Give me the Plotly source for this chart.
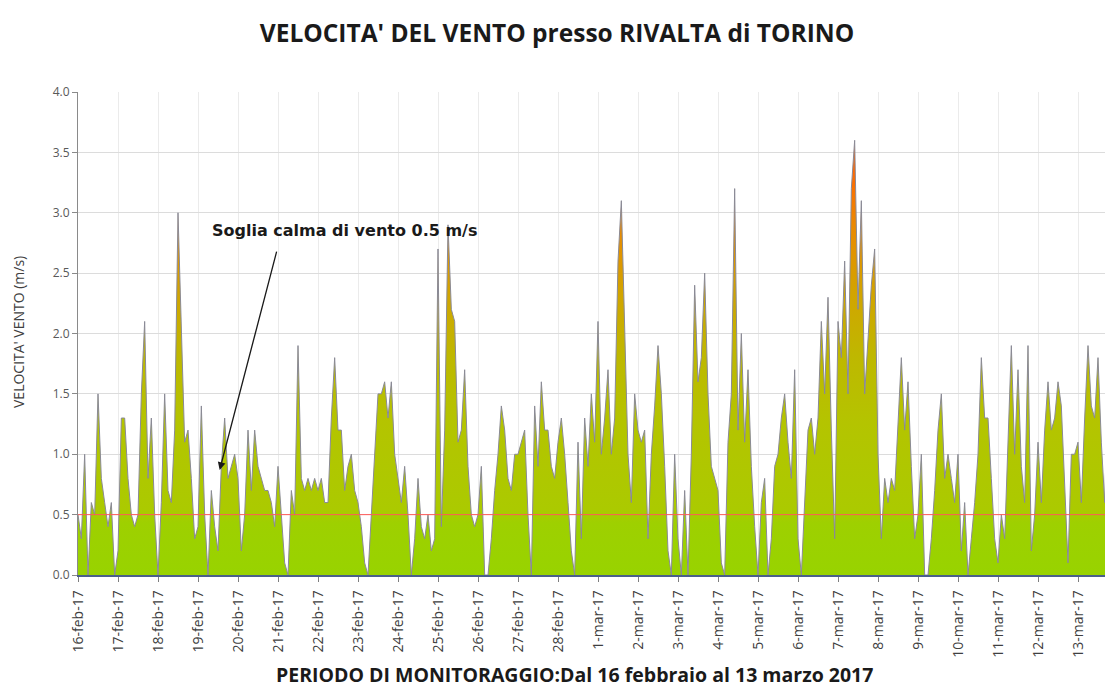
import pandas as pd
import plotly.graph_objects as go

# Wind speed (m/s), one value every 2 hours for each day (00h, 02h, ... 22h)
feb16 = [0.5, 0.3, 1.0, 0.0, 0.6, 0.5, 1.5, 0.8, 0.6, 0.4, 0.6, 0.0]
feb17 = [0.2, 1.3, 1.3, 0.8, 0.5, 0.4, 0.5, 1.5, 2.1, 0.8, 1.3, 0.5]
feb18 = [0.0, 0.6, 1.5, 0.7, 0.6, 1.2, 3.0, 2.0, 1.1, 1.2, 0.8, 0.3]
feb19 = [0.4, 1.4, 0.5, 0.0, 0.7, 0.4, 0.2, 0.9, 1.3, 0.8, 0.9, 1.0]
feb20 = [0.8, 0.2, 0.5, 1.2, 0.7, 1.2, 0.9, 0.8, 0.7, 0.7, 0.6, 0.4]
feb21 = [0.9, 0.5, 0.1, 0.0, 0.7, 0.5, 1.9, 0.8, 0.7, 0.8, 0.7, 0.8]
feb22 = [0.7, 0.8, 0.6, 0.6, 1.3, 1.8, 1.2, 1.2, 0.7, 0.9, 1.0, 0.7]
feb23 = [0.6, 0.4, 0.1, 0.0, 0.5, 0.9, 1.5, 1.5, 1.6, 1.3, 1.6, 1.0]
feb24 = [0.8, 0.6, 0.9, 0.5, 0.0, 0.3, 0.8, 0.4, 0.3, 0.5, 0.2, 0.3]
feb25 = [2.7, 0.4, 1.2, 2.9, 2.2, 2.1, 1.1, 1.2, 1.7, 0.9, 0.5, 0.4]
feb26 = [0.5, 0.9, 0.0, 0.0, 0.3, 0.7, 1.0, 1.4, 1.2, 0.8, 0.7, 1.0]
feb27 = [1.0, 1.1, 1.2, 0.5, 0.0, 1.4, 0.9, 1.6, 1.2, 1.2, 0.9, 0.8]
feb28 = [1.1, 1.3, 1.0, 0.6, 0.2, 0.0, 1.1, 0.3, 1.3, 0.9, 1.5, 1.1]
mar01 = [2.1, 1.0, 1.3, 1.7, 1.0, 1.3, 2.6, 3.1, 2.0, 1.0, 0.6, 1.5]
mar02 = [1.2, 1.1, 1.2, 0.3, 1.0, 1.4, 1.9, 1.5, 0.9, 0.2, 0.0, 1.0]
mar03 = [0.3, 0.0, 0.7, 0.0, 1.0, 2.4, 1.6, 1.8, 2.5, 1.5, 0.9, 0.8]
mar04 = [0.7, 0.1, 0.0, 1.1, 1.5, 3.2, 1.2, 2.0, 1.1, 1.7, 0.9, 0.4]
mar05 = [0.0, 0.6, 0.8, 0.0, 0.3, 0.9, 1.0, 1.3, 1.5, 1.1, 0.8, 1.7]
mar06 = [0.3, 0.0, 0.6, 1.2, 1.3, 1.0, 1.3, 2.1, 1.5, 2.3, 1.2, 0.3]
mar07 = [2.1, 1.8, 2.6, 1.5, 3.2, 3.6, 2.2, 3.1, 1.5, 2.0, 2.4, 2.7]
mar08 = [1.0, 0.3, 0.8, 0.6, 0.8, 0.7, 1.2, 1.8, 1.2, 1.6, 0.9, 0.3]
mar09 = [0.5, 1.0, 0.0, 0.0, 0.3, 0.7, 1.2, 1.5, 0.8, 1.0, 0.8, 0.6]
mar10 = [1.0, 0.2, 0.6, 0.0, 0.3, 0.6, 1.0, 1.8, 1.3, 1.3, 0.8, 0.3]
mar11 = [0.1, 0.5, 0.3, 1.2, 1.9, 1.0, 1.7, 0.9, 0.6, 1.9, 0.2, 0.5]
mar12 = [1.1, 0.6, 1.2, 1.6, 1.2, 1.3, 1.6, 1.4, 0.8, 0.1, 1.0, 1.0]
mar13 = [1.1, 0.6, 1.3, 1.9, 1.4, 1.3, 1.8, 1.1, 0.6, 1.6, 1.2]

day_dates = ["2017-02-16", "2017-02-17", "2017-02-18", "2017-02-19", "2017-02-20",
             "2017-02-21", "2017-02-22", "2017-02-23", "2017-02-24", "2017-02-25",
             "2017-02-26", "2017-02-27", "2017-02-28", "2017-03-01", "2017-03-02",
             "2017-03-03", "2017-03-04", "2017-03-05", "2017-03-06", "2017-03-07",
             "2017-03-08", "2017-03-09", "2017-03-10", "2017-03-11", "2017-03-12",
             "2017-03-13"]
day_values = [feb16, feb17, feb18, feb19, feb20, feb21, feb22, feb23, feb24, feb25,
              feb26, feb27, feb28, mar01, mar02, mar03, mar04, mar05, mar06, mar07,
              mar08, mar09, mar10, mar11, mar12, mar13]
tick_labels = ["16-feb-17", "17-feb-17", "18-feb-17", "19-feb-17", "20-feb-17",
               "21-feb-17", "22-feb-17", "23-feb-17", "24-feb-17", "25-feb-17",
               "26-feb-17", "27-feb-17", "28-feb-17", "1-mar-17", "2-mar-17",
               "3-mar-17", "4-mar-17", "5-mar-17", "6-mar-17", "7-mar-17",
               "8-mar-17", "9-mar-17", "10-mar-17", "11-mar-17", "12-mar-17",
               "13-mar-17"]
threshold = 0.5

times, speeds = [], []
for d, vals in zip(day_dates, day_values):
    base = pd.Timestamp(d)
    for i, v in enumerate(vals):
        times.append(base + pd.Timedelta(hours=2 * i))
        speeds.append(v)

# page has an 8px body margin: figure is drawn at (8, 8)
W, H = 1105, 680
L, T, B = 70, 84, 113
PW, PH = W - L, H - T - B

fig = go.Figure()
fig.add_trace(go.Scatter(
    x=times, y=speeds, mode="lines", fill="tozeroy",
    line=dict(color="#8a8a96", width=1),
    fillgradient=dict(
        type="vertical", start=0, stop=3.6,
        colorscale=[[0.0, "#98d300"], [0.12, "#9ed000"], [0.15, "#abca00"],
                    [0.35, "#b4c400"], [0.50, "#beb800"], [0.65, "#d2a400"],
                    [0.80, "#ea8a00"], [0.92, "#ff6a00"], [1.0, "#ff6000"]]),
    hoverinfo="x+y", showlegend=False))

fig.add_shape(type="line", xref="x domain", yref="y", x0=0, x1=1,
              y0=threshold, y1=threshold, line=dict(color="#ff5a5a", width=1),
              layer="above")

# arrow
fig.add_annotation(x=pd.Timestamp("2017-02-19 13:00"), y=0.87,
                   ax=pd.Timestamp("2017-02-20 23:24"), ay=2.69,
                   xref="x", yref="y", axref="x", ayref="y",
                   text="", showarrow=True, arrowhead=2, arrowsize=1.2,
                   arrowwidth=1.3, arrowcolor="#1a1a1a")
fig.add_annotation(x=(210 - 8 - L) / PW, y=(567 - (230 - 8)) / PH, xref="paper", yref="paper",
                   xanchor="left", yanchor="middle", showarrow=False,
                   text="<b>Soglia calma di vento 0.5 m/s</b>",
                   font=dict(family="DejaVu Sans", size=16, color="#1a1a1a"))

# axis titles
fig.add_annotation(x=(18 - 8 - L) / PW, y=(567 - (332 - 8)) / PH, xref="paper", yref="paper",
                   textangle=-90, showarrow=False, xanchor="center", yanchor="middle",
                   text="VELOCITA' VENTO (m/s)",
                   font=dict(family="Open Sans", size=14, color="#404040"))
fig.add_annotation(x=(574 - 8 - L) / PW, y=(567 - (674 - 8)) / PH, xref="paper", yref="paper",
                   showarrow=False, xanchor="center", yanchor="middle",
                   text="<b>PERIODO DI MONITORAGGIO:Dal 16 febbraio al 13 marzo 2017</b>",
                   font=dict(family="Open Sans", size=19.5, color="#1a1a1a"))

fig.update_layout(
    width=W, height=H,
    margin=dict(l=L, r=0, t=T, b=B),
    paper_bgcolor="white", plot_bgcolor="white",
    title=dict(text="<b>VELOCITA' DEL VENTO presso RIVALTA di TORINO</b>",
               x=(557 - 8) / W, xanchor="center", y=1 - (33 - 8) / H, yanchor="middle",
               font=dict(family="Open Sans", size=24.5, color="#1a1a1a")),
    xaxis=dict(type="date",
               range=[pd.Timestamp("2017-02-16 00:00"), pd.Timestamp("2017-03-13 21:00")],
               tickvals=[pd.Timestamp(d) for d in day_dates], ticktext=tick_labels,
               tickangle=-90, ticks="outside", ticklen=5, tickcolor="#7f7f7f",
               ticklabelstandoff=3,
               showgrid=True, gridcolor="#ebebeb", gridwidth=1,
               showline=True, linecolor="#4a5f8a", linewidth=1.5,
               tickfont=dict(family="Open Sans", size=14, color="#404040"),
               zeroline=False),
    yaxis=dict(range=[0, 4], dtick=0.5, tick0=0, tickformat=".1f",
               ticks="outside", ticklen=5, tickcolor="#8a8a8a",
               showgrid=True, gridcolor="#dcdcdc", gridwidth=1,
               showline=True, linecolor="#8a8a8a", linewidth=1,
               tickfont=dict(family="Open Sans", size=12, color="#595959"),
               zeroline=False),
)

fig.write_html("out.html")
